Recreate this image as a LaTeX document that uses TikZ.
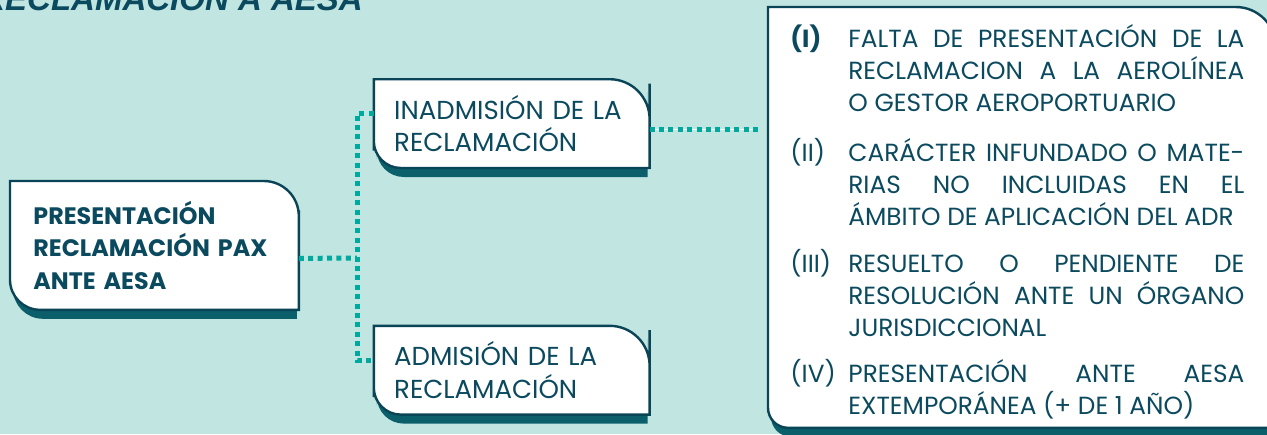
\documentclass[tikz,border=0pt]{standalone}
\usepackage{fontspec}
\setmainfont{Poppins}
\newfontfamily\titlefont{Liberation Sans}
\usetikzlibrary{positioning,backgrounds}

\definecolor{sea}{HTML}{C1E6E2}
\definecolor{ink}{HTML}{0B4A5E}
\definecolor{edge}{HTML}{0A4457}
\definecolor{shade}{HTML}{0A5F6B}
\definecolor{dots}{HTML}{00A99D}

\tikzset{
  tagnode/.style={inner sep=0pt, anchor=north west, text=ink, align=left},
  tagedge/.style={draw=edge, fill=white, line width=1.2pt},
  tagshade/.style={fill=shade},
  dotline/.style={dots, line width=2.5pt, dash pattern=on 2.5pt off 2.2pt},
  itemmark/.style={anchor=base west, inner sep=0pt, text=ink,
    font=\fontsize{12.4}{16}\selectfont},
  itembody/.style={anchor=base west, inner sep=0pt, text=ink, text width=198pt,
    align=justify, font=\fontsize{12.4}{16}\selectfont},
}

% box with shadow: node, top right radius, bottom left radius
\newcommand\drawtag[3]{%
  \fill[tagshade] ([shift={(0.5,8)}]#1.north) [rounded corners=#2]
    -- ([shift={(-2,8)}]#1.north east) -- ([shift={(-2,8.5)}]#1.east) [sharp corners]
    -- ([shift={(-2,9)}]#1.south east) -- ([shift={(0.5,9)}]#1.south) [rounded corners=#3]
    -- ([shift={(3,9)}]#1.south west) -- ([shift={(3,8.5)}]#1.west) [sharp corners]
    -- ([shift={(3,8)}]#1.north west) -- cycle;
  \path[tagedge] (#1.north) [rounded corners=#2]
    -- (#1.north east) -- (#1.east) [sharp corners]
    -- (#1.south east) -- (#1.south) [rounded corners=#3]
    -- (#1.south west) -- (#1.west) [sharp corners]
    -- (#1.north west) -- cycle;
}

\begin{document}
\begin{tikzpicture}[x=0.5pt, y=-0.5pt]
  \useasboundingbox (0,0) rectangle (1267,434);

  \node[anchor=base west, inner sep=0pt, text=ink,
    font=\titlefont\bfseries\itshape\fontsize{16.5}{18}\selectfont]
    (title) at (-19,10) {RECLAMACIÓN A AESA};

  \node[tagnode, inner xsep=11.5pt, text width=121pt, minimum width=144pt,
    minimum height=64pt, font=\bfseries\fontsize{11.9}{16.25}\selectfont]
    (main) at (10,181) {PRESENTACIÓN\\RECLAMACIÓN PAX\\ANTE AESA};
  \node[tagnode, inner xsep=10pt, text width=117.5pt, minimum height=44pt,
    font=\fontsize{13}{16.25}\selectfont, above right=6.5pt and 37.5pt of main.north east]
    (inad) {INADMISIÓN DE LA\\RECLAMACIÓN};
  \node[tagnode, inner xsep=10pt, text width=117.5pt, minimum height=44pt,
    font=\fontsize{13}{16.25}\selectfont, below right=8pt and 37.5pt of main.south east]
    (adm) {ADMISIÓN DE LA\\RECLAMACIÓN};
  \node[tagnode, minimum width=253.5pt, minimum height=210pt] (list) at (768,7) {};

  \foreach \k/\tagno/\y/\txt in {
    1/{\bfseries(I)}/47/{FALTA DE PRESENTACIÓN DE LA\linebreak RECLAMACION A LA AEROLÍNEA\linebreak O GESTOR AEROPORTUARIO},
    2/{(II)}/161/{CARÁCTER INFUNDADO O MATE-\linebreak RIAS NO INCLUIDAS EN EL\linebreak \mbox{ÁMBITO DE APLICACIÓN DEL ADR}},
    3/{(III)}/272/{RESUELTO O PENDIENTE DE\linebreak RESOLUCIÓN ANTE UN ÓRGANO\linebreak JURISDICCIONAL},
    4/{(IV)}/382/{PRESENTACIÓN ANTE AESA\linebreak EXTEMPORÁNEA (+ DE 1 AÑO)}}{
    \node[itemmark] (mark\k) at (790,\y) {\tagno};
    \node[itembody] (item\k) at (848,\y) {\txt};
  }

  \begin{scope}[on background layer]
    \fill[sea] (0,0) rectangle (1267,434);
    \drawtag{main}{17.5pt}{15pt}
    \drawtag{inad}{20pt}{13.5pt}
    \drawtag{adm}{20pt}{13.5pt}
    \drawtag{list}{20pt}{10pt}
  \end{scope}

  % connectors
  \coordinate (fork) at (357,258);
  \coordinate (inadout) at ([yshift=-3pt]inad.east);
  \draw[dotline] ([yshift=-6.5pt]main.east) -- (fork);
  \draw[dotline] ([yshift=5pt]inad.west) -| (fork) |- ([yshift=5pt]adm.west);
  \draw[dotline, shorten >=5pt, preaction={draw=white, line width=0.6pt, solid}]
    (inadout) -- (inadout -| list.west);
\end{tikzpicture}
\end{document}
